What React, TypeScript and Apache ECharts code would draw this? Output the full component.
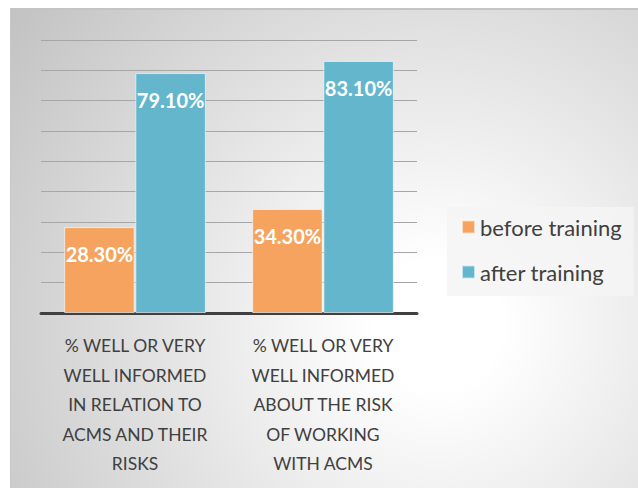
import React, { useEffect, useRef } from "react";
import * as echarts from "echarts";

const categories = [
  "% WELL OR VERY\nWELL INFORMED\nIN RELATION TO\nACMS AND THEIR\nRISKS",
  "% WELL OR VERY\nWELL INFORMED\nABOUT THE RISK\nOF WORKING\nWITH ACMS",
];
const beforeTraining = [28.3, 34.3];
const afterTraining = [79.1, 83.1];
const seriesNames = ["before training", "after training"];

export default function App() {
  const ref = useRef<HTMLDivElement>(null);
  useEffect(() => {
    document.body.style.margin = "0";
    const chart = echarts.init(ref.current!, null, { renderer: "svg" });
    const label = {
      show: true,
      position: "insideTop",
      distance: 17,
      color: "#ffffff",
      fontFamily: "Lato",
      fontWeight: "bold",
      fontSize: 20,
      formatter: (p: any) => p.value.toFixed(2) + "%",
    };
    chart.setOption({
      animation: false,
      backgroundColor: "transparent",
      grid: { left: 30, right: 221, top: 30, bottom: 175, containLabel: false },
      legend: {
        orient: "vertical",
        left: 436,
        top: 197,
        backgroundColor: "rgba(244,244,244,0.85)",
        padding: [9, 12, 13, 14],
        itemGap: 23,
        itemWidth: 13,
        itemHeight: 13,
        icon: "rect",
        textStyle: { fontFamily: "Lato", fontSize: 22, color: "#404040" },
        data: seriesNames,
      },
      xAxis: {
        type: "category",
        data: categories,
        axisLine: { lineStyle: { color: "#404040", width: 3 } },
        axisTick: { show: false },
        axisLabel: {
          interval: 0,
          margin: 18,
          fontFamily: "Lato",
          fontSize: 17.5,
          lineHeight: 29.5,
          color: "#404040",
          align: "center",
        },
      },
      yAxis: {
        type: "value",
        min: 0,
        max: 90,
        interval: 10,
        axisLabel: { show: false },
        axisLine: { show: false },
        axisTick: { show: false },
        splitLine: { lineStyle: { color: "#a6a6a6", width: 1 } },
      },
      series: [
        {
          name: seriesNames[0],
          type: "bar",
          data: beforeTraining,
          barWidth: "37.5%",
          barGap: "1%",
          itemStyle: { color: "#F5A35F", borderColor: "rgba(255,255,255,0.6)", borderWidth: 1 },
          label,
        },
        {
          name: seriesNames[1],
          type: "bar",
          data: afterTraining,
          barWidth: "37.5%",
          itemStyle: { color: "#63B6CC", borderColor: "rgba(255,255,255,0.6)", borderWidth: 1 },
          label,
        },
      ],
    });
    return () => chart.dispose();
  }, []);
  return (
    <div
      ref={ref}
      style={{
        position: "absolute",
        left: 10,
        top: 8,
        width: 628,
        height: 480,
        borderTop: "2px solid #c4c4c4",
        borderLeft: "1px solid #c8c8c8",
        boxSizing: "border-box",
        background:
          "radial-gradient(circle farthest-corner at 68% 66%, #ffffff 0%, #ffffff 12%, #c2c2c2 100%)",
      }}
    />
  );
}
